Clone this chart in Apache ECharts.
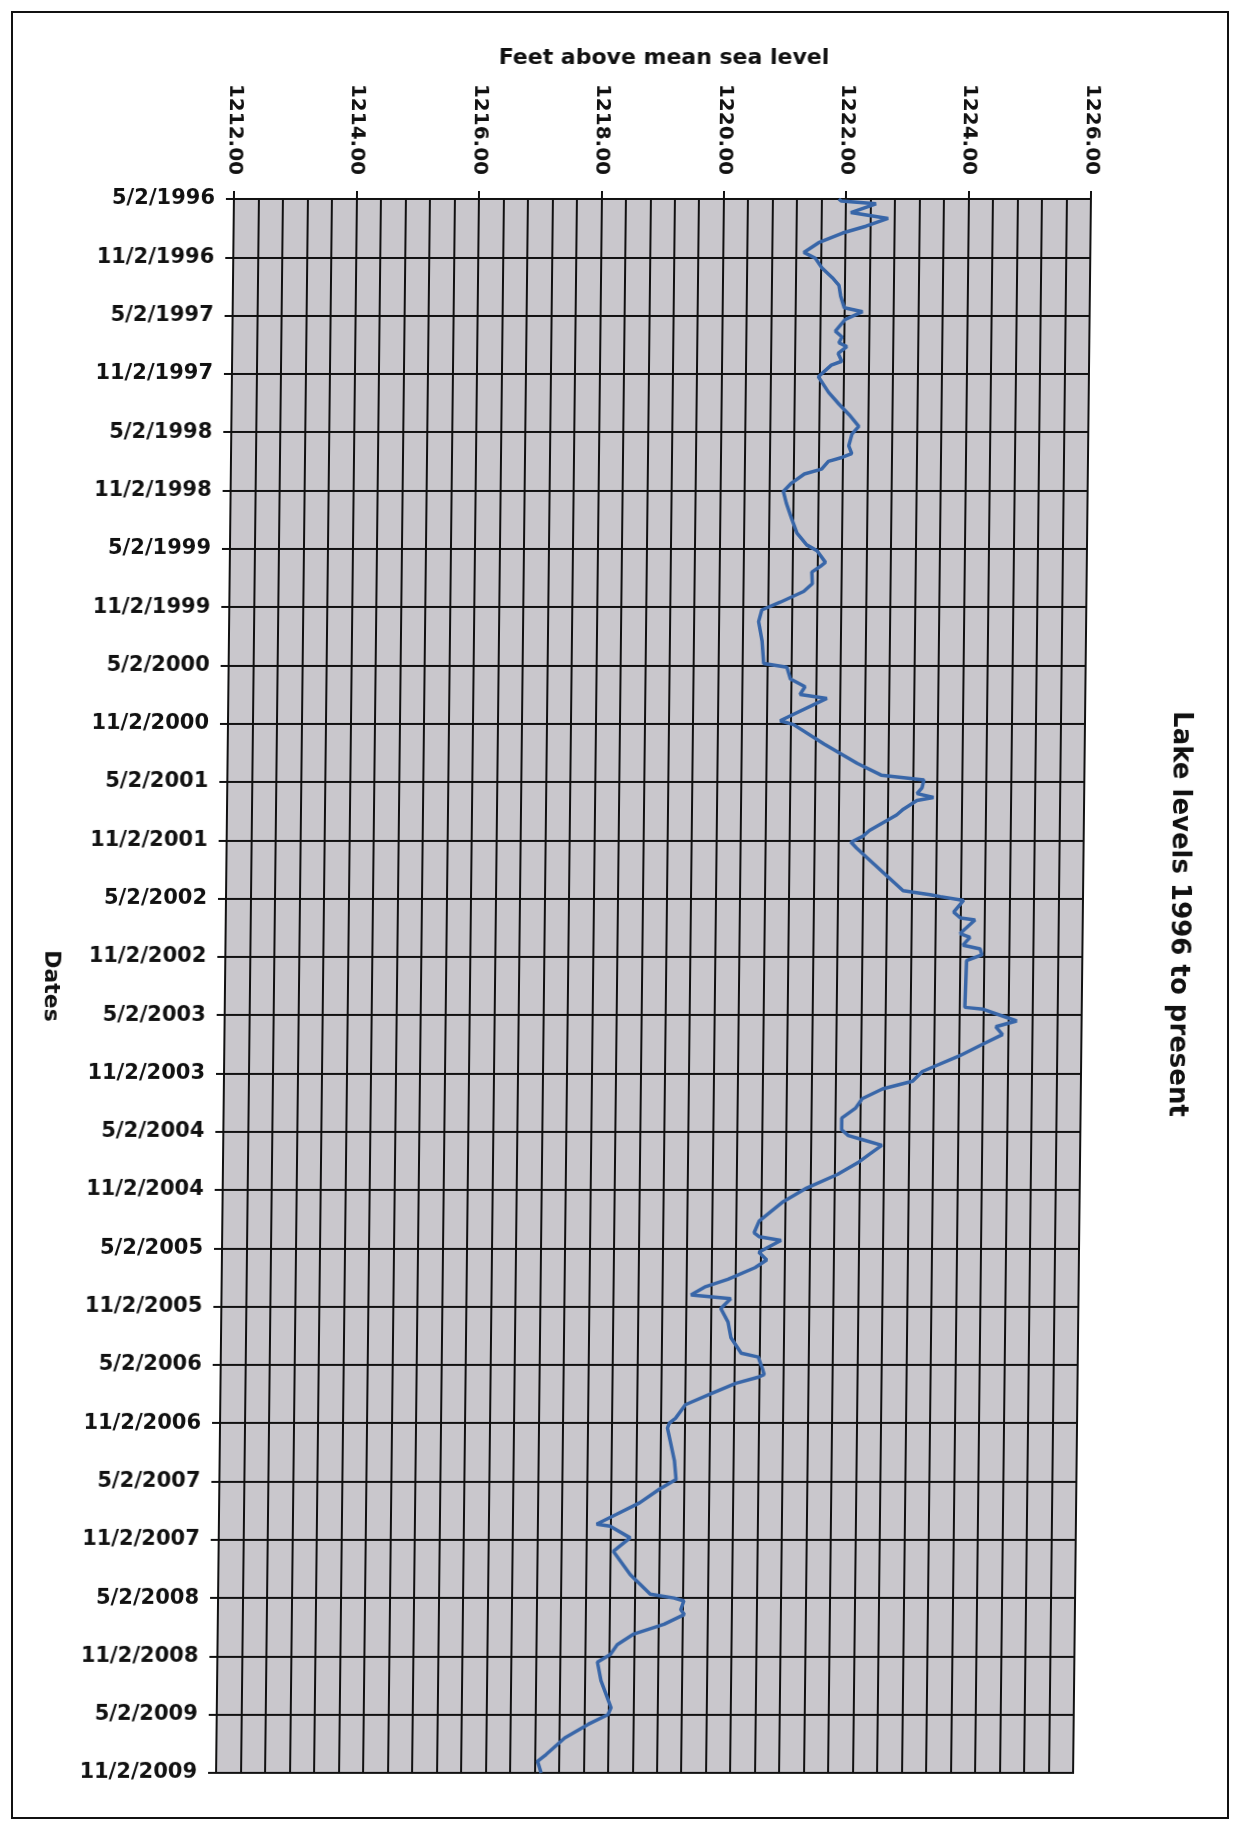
<!DOCTYPE html>
<html>
<head>
<meta charset="utf-8">
<script src="https://cdn.jsdelivr.net/npm/echarts@6/dist/echarts.min.js"></script>
<style>
  html, body { margin: 0; padding: 0; background: #ffffff; }
  #wrap { position: relative; width: 1247px; height: 1822px; overflow: hidden; }
  #chart { position: absolute; left: 0; top: 0; width: 1247px; height: 1822px; transform: skewX(-0.65deg); transform-origin: 0 986px; }
  #frame { position: absolute; left: 11px; top: 11px; width: 1214px; height: 1804px; border: 2px solid #111111; pointer-events: none; }
</style>
</head>
<body>
<div id="wrap">
  <div id="chart"></div>
  <div id="frame"></div>
</div>
<script>
// ---- data ----
const dates = [
  "5/2/1996","5/8/1996","5/17/1996","6/14/1996","7/2/1996","7/26/1996","8/17/1996","9/17/1996","10/17/1996",
  "11/5/1996","12/5/1996","1/5/1997","1/29/1997","3/2/1997","4/8/1997","4/20/1997","5/14/1997","6/20/1997",
  "7/8/1997","7/26/1997","8/8/1997","8/29/1997","9/23/1997","10/5/1997","11/11/1997","12/29/1997","2/5/1998",
  "3/8/1998","4/14/1998","5/8/1998","6/14/1998","7/8/1998","7/20/1998","8/2/1998","8/26/1998","9/11/1998",
  "10/11/1998","11/5/1998","12/11/1998","1/29/1999","3/14/1999","4/20/1999","5/8/1999","6/14/1999","6/26/1999",
  "7/14/1999","8/20/1999","9/14/1999","10/17/1999","11/11/1999","12/17/1999","2/17/2000","4/26/2000","5/8/2000",
  "6/14/2000","7/8/2000","8/2/2000","8/14/2000","10/23/2000","11/5/2000","1/5/2001","3/5/2001","4/11/2001",
  "4/26/2001","5/20/2001","6/8/2001","6/20/2001","6/29/2001","7/26/2001","8/14/2001","10/2/2001","10/20/2001",
  "11/8/2001","11/26/2001","1/2/2002","2/20/2002","4/8/2002","4/20/2002","4/26/2002","5/8/2002","6/14/2002",
  "7/2/2002","7/8/2002","8/20/2002","9/2/2002","9/26/2002","10/8/2002","10/26/2002","11/14/2002","4/8/2003",
  "4/14/2003","5/20/2003","6/8/2003","7/2/2003","8/2/2003","9/8/2003","10/26/2003","11/26/2003","12/20/2003",
  "1/20/2004","2/20/2004","3/20/2004","4/26/2004","5/14/2004","5/26/2004","6/14/2004","7/14/2004","8/8/2004",
  "9/14/2004","10/26/2004","12/8/2004","2/8/2005","3/14/2005","3/26/2005","4/8/2005","5/14/2005","6/8/2005",
  "7/2/2005","8/8/2005","9/2/2005","9/26/2005","10/8/2005","11/8/2005","12/20/2005","2/8/2006","3/26/2006",
  "4/8/2006","5/14/2006","6/2/2006","6/11/2006","6/29/2006","7/29/2006","9/5/2006","10/17/2006","11/2/2006",
  "11/17/2006","2/28/2007","4/26/2007","5/26/2007","7/8/2007","8/14/2007","9/14/2007","9/20/2007","10/26/2007",
  "12/8/2007","2/20/2008","4/20/2008","5/2/2008","5/11/2008","6/8/2008","6/23/2008","7/23/2008","8/23/2008",
  "9/26/2008","10/26/2008","11/20/2008","1/17/2009","4/11/2009","5/2/2009","6/2/2009","7/14/2009","9/5/2009",
  "9/26/2009","11/2/2009"
];
const levels = [
  1221.88,1221.92,1222.49,1222.08,1222.69,1222.33,1221.95,1221.56,1221.32,
  1221.51,1221.62,1221.79,1221.90,1221.93,1221.99,1222.29,1222.01,1221.85,
  1221.96,1221.91,1222.04,1221.90,1221.96,1221.79,1221.58,1221.75,1221.92,
  1222.09,1222.25,1222.14,1222.09,1222.14,1221.98,1221.76,1221.65,1221.37,
  1221.15,1221.03,1221.08,1221.17,1221.26,1221.42,1221.59,1221.73,1221.65,
  1221.51,1221.52,1221.38,1221.00,1220.70,1220.65,1220.71,1220.74,1221.12,
  1221.18,1221.42,1221.34,1221.78,1221.02,1221.24,1221.74,1222.29,1222.68,
  1223.38,1223.35,1223.27,1223.54,1223.27,1223.05,1222.94,1222.50,1222.39,
  1222.20,1222.29,1222.50,1222.78,1223.06,1223.50,1223.67,1224.05,1223.89,
  1224.00,1224.24,1224.00,1224.16,1224.05,1224.33,1224.36,1224.11,1224.09,
  1224.39,1224.94,1224.60,1224.71,1224.39,1224.01,1223.41,1223.25,1222.76,
  1222.43,1222.32,1222.10,1222.10,1222.21,1222.43,1222.76,1222.54,1222.37,
  1222.04,1221.54,1221.16,1220.77,1220.69,1220.77,1221.13,1220.77,1220.90,
  1220.71,1220.27,1219.89,1219.67,1220.32,1220.16,1220.28,1220.33,1220.50,
  1220.78,1220.85,1220.88,1220.77,1220.42,1220.04,1219.60,1219.44,1219.34,
  1219.31,1219.43,1219.46,1219.19,1218.87,1218.49,1218.17,1218.39,1218.72,
  1218.45,1218.73,1219.06,1219.45,1219.61,1219.56,1219.62,1219.29,1218.80,
  1218.53,1218.42,1218.21,1218.27,1218.44,1218.39,1218.07,1217.69,1217.39,
  1217.25,1217.31
];
const dateTickLabels = [
  "5/2/1996","11/2/1996","5/2/1997","11/2/1997","5/2/1998","11/2/1998","5/2/1999","11/2/1999",
  "5/2/2000","11/2/2000","5/2/2001","11/2/2001","5/2/2002","11/2/2002","5/2/2003","11/2/2003",
  "5/2/2004","11/2/2004","5/2/2005","11/2/2005","5/2/2006","11/2/2006","5/2/2007","11/2/2007",
  "5/2/2008","11/2/2008","5/2/2009","11/2/2009"
];
const levelTickLabels = ["1212.00","1214.00","1216.00","1218.00","1220.00","1222.00","1224.00","1226.00"];
const chartTitle = "Lake levels 1996 to present";
const xName = "Feet above mean sea level";
const yName = "Dates";

// months elapsed since 5/2/1996 (the axis runs in months, ticks every 6 months)
function toMonths(s) {
  const p = s.split('/').map(Number);
  return (p[2] - 1996) * 12 + (p[0] - 5) + (p[1] - 2) / 30;
}
const seriesData = levels.map((v, i) => [v, toMonths(dates[i])]);

const FONT = 'DejaVu Sans';
const INK = '#111111';
const chart = echarts.init(document.getElementById('chart'), null, { renderer: 'canvas' });
chart.setOption({
  backgroundColor: 'transparent',
  animation: false,
  grid: {
    left: 225, top: 199, width: 857, height: 1574,
    show: true, backgroundColor: '#c9c7cc', borderColor: INK, borderWidth: 2
  },
  xAxis: {
    type: 'value', position: 'top', min: 1212, max: 1226, interval: 2,
    name: xName, nameLocation: 'middle', nameGap: 130,
    nameTextStyle: { fontFamily: FONT, fontWeight: 'bold', fontSize: 22, color: INK },
    axisLine: { show: true, lineStyle: { color: INK, width: 2 } },
    axisTick: { show: true, length: 8, lineStyle: { color: INK, width: 2 } },
    axisLabel: {
      rotate: -90, margin: 24, fontFamily: FONT, fontWeight: 'bold', fontSize: 20, color: INK,
      formatter: function (v) { return levelTickLabels[Math.round((v - 1212) / 2)]; }
    },
    splitLine: { show: true, lineStyle: { color: INK, width: 2 } },
    minorTick: { show: false, splitNumber: 5 },
    minorSplitLine: { show: true, lineStyle: { color: INK, width: 2 } }
  },
  yAxis: {
    type: 'value', inverse: true, min: 0, max: 162, interval: 6,
    name: yName, nameLocation: 'middle', nameGap: 163, nameRotate: -90,
    nameTextStyle: { fontFamily: FONT, fontWeight: 'bold', fontSize: 22, color: INK },
    axisLine: { show: true, lineStyle: { color: INK, width: 2 } },
    axisTick: { show: true, length: 8, lineStyle: { color: INK, width: 2 } },
    axisLabel: {
      margin: 19, fontFamily: FONT, fontWeight: 'bold', fontSize: 21, color: INK,
      formatter: function (v) { return dateTickLabels[Math.round(v / 6)]; }
    },
    splitLine: { show: true, lineStyle: { color: INK, width: 2 } }
  },
  graphic: [
    { type: 'text', x: 1178, y: 914, rotation: -Math.PI / 2,
      style: { text: chartTitle, fill: INK, font: 'bold 26px "DejaVu Sans"',
               textAlign: 'center', textVerticalAlign: 'middle' }, z: 100 }
  ],
  series: [{
    type: 'line', data: seriesData, showSymbol: false, symbol: 'none',
    lineStyle: { color: '#3866a8', width: 3.5 }, z: 5
  }]
});
</script>
</body>
</html>
